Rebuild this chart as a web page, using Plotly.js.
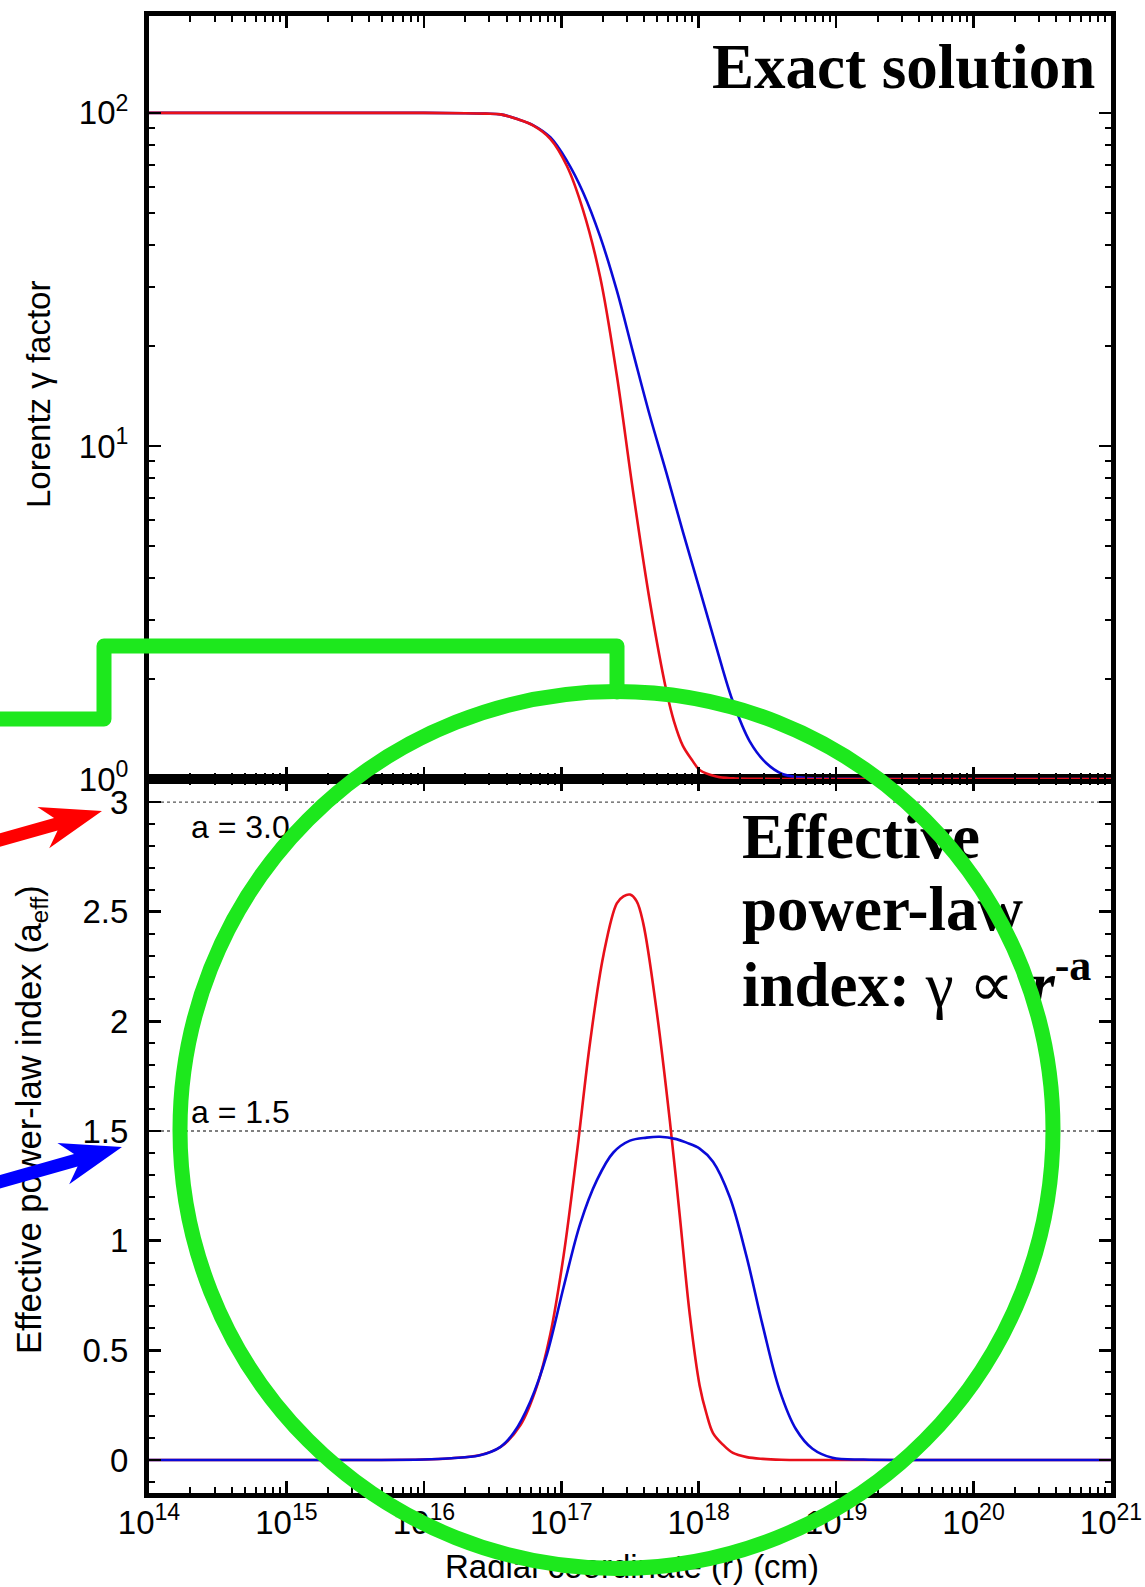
<!DOCTYPE html>
<html>
<head>
<meta charset="utf-8">
<script src="https://cdn.plot.ly/plotly-3.0.1.min.js"></script>
<style>
  html, body { margin: 0; padding: 0; background: #fff; }
  #chart { width: 1145px; height: 1587px; }
</style>
</head>
<body>
<div id="chart"></div>
<script>
// ---------------- data ----------------
// Upper panel: Lorentz gamma factor vs radial coordinate r (cm)
const rGammaRed = [1e14, 3.162e14, 1e15, 3.162e15, 1e16, 1.995e16, 2.818e16, 3.614e16, 4.746e16, 6.266e16, 8.318e16, 1.099e17, 1.442e17, 1.919e17, 2.535e17, 3.327e17, 4.416e17, 5.834e17, 6.607e17, 7.656e17, 8.913e17, 1.016e18, 1.343e18, 1.778e18, 2.512e18, 3.981e18, 1e19, 3.162e19, 1e20, 3.162e20, 1e21];
const gammaRed  = [100, 100, 100, 100, 100, 99.8, 99.5, 99.0, 95.9, 91.6, 83.6, 69.3, 51.0, 32.1, 16.3, 7.31, 3.40, 1.83, 1.49, 1.26, 1.143, 1.064, 1.017, 1.004, 1.001, 1, 1, 1, 1, 1, 1];

const rGammaBlue = [1e14, 3.162e14, 1e15, 3.162e15, 1e16, 1.995e16, 2.818e16, 3.614e16, 4.746e16, 6.266e16, 8.318e16, 1.099e17, 1.442e17, 1.919e17, 2.535e17, 3.327e17, 4.416e17, 5.834e17, 7.656e17, 1.016e18, 1.343e18, 1.762e18, 2.344e18, 3.097e18, 4.064e18, 5.395e18, 7.943e18, 1.259e19, 3.162e19, 1e20, 3.162e20, 1e21];
const gammaBlue  = [100, 100, 100, 100, 100, 99.8, 99.5, 99.0, 96.0, 91.8, 84.5, 71.8, 57.7, 42.5, 29.3, 19.1, 12.3, 8.27, 5.54, 3.71, 2.49, 1.72, 1.30, 1.117, 1.035, 1.012, 1.003, 1.001, 1, 1, 1, 1];

// Lower panel: effective power-law index a_eff vs r
const rIndexRed = [1e14, 3.162e14, 1e15, 3.162e15, 1e16, 1.585e16, 2.588e16, 3.614e16, 5.047e16, 6.668e16, 8.318e16, 1.040e17, 1.300e17, 1.622e17, 2.028e17, 2.535e17, 2.833e17, 3.162e17, 3.532e17, 3.945e17, 4.932e17, 6.166e17, 7.278e17, 8.610e17, 1.016e18, 1.138e18, 1.271e18, 1.500e18, 1.774e18, 2.239e18, 2.924e18, 3.981e18, 6.310e18, 1e19, 3.162e19, 1e20, 3.162e20, 1e21];
const indexRed  = [0, 0, 0, 0, 0.002, 0.008, 0.023, 0.059, 0.159, 0.339, 0.573, 0.933, 1.402, 1.907, 2.303, 2.538, 2.57, 2.578, 2.548, 2.448, 2.051, 1.546, 1.114, 0.663, 0.339, 0.212, 0.123, 0.07, 0.032, 0.013, 0.005, 0.001, 0, 0, 0, 0, 0, 0];

const rIndexBlue = [1e14, 3.162e14, 1e15, 3.162e15, 1e16, 1.585e16, 2.512e16, 3.614e16, 4.519e16, 5.957e16, 7.870e16, 1.040e17, 1.374e17, 1.816e17, 2.393e17, 3.162e17, 4.178e17, 5.212e17, 6.887e17, 8.147e17, 1.016e18, 1.271e18, 1.679e18, 2.218e18, 2.931e18, 3.864e18, 5.105e18, 6.730e18, 9.397e18, 1.585e19, 3.162e19, 1e20, 3.162e20, 1e21];
const indexBlue  = [0, 0, 0, 0, 0.002, 0.008, 0.02, 0.06, 0.125, 0.267, 0.483, 0.789, 1.078, 1.276, 1.402, 1.456, 1.470, 1.474, 1.463, 1.447, 1.42, 1.36, 1.20, 0.933, 0.609, 0.321, 0.14, 0.051, 0.01, 0.002, 0, 0, 0, 0];

// Reference levels in the lower panel
const refLevels = [3.0, 1.5];
const refLabels = ['a = 3.0', 'a = 1.5'];
const refLabelShift = [-25, 19];

// Tick labels
const xTickExponents = [14, 15, 16, 17, 18, 19, 20, 21];
const gammaTickExponents = [0, 1, 2];
const indexTickValues = [0, 0.5, 1, 1.5, 2, 2.5, 3];
const indexTickLabels = ['0', '0.5', '1', '1.5', '2', '2.5', '3'];

// ---------------- layout helpers ----------------
const PL = 149, PR = 1111, PT = 16, PB = 1493;     // plot area in pixels
const FIG_W = 1145, FIG_H = 1587;
function px(X) { return (X - PL) / (PR - PL); }
function py(Y) { return (PB - Y) / (PB - PT); }
function path(points, close) {
  let s = points.map((p, i) => (i ? 'L' : 'M') + px(p[0]).toFixed(5) + ',' + py(p[1]).toFixed(5)).join(' ');
  return close ? s + ' Z' : s;
}
const splitFrac = (PB - 779) / (PB - PT);

const sansFont = 'Liberation Sans, Arial, Helvetica, sans-serif';
const serifFont = 'Liberation Serif, Times New Roman, serif';

const xTickVals = xTickExponents.map(e => Math.pow(10, e));
const xTickText = xTickExponents.map(e => '10<sup>' + e + '</sup>');
const xMinor = [];
for (let e = 14; e < 21; e++) for (let k = 2; k <= 9; k++) xMinor.push(k * Math.pow(10, e));
const gTickVals = gammaTickExponents.map(e => Math.pow(10, e));
const gTickText = gammaTickExponents.map(e => '10<sup>' + e + '</sup>');
const gMinor = [];
for (let e = 0; e < 3; e++) for (let k = 2; k <= 9; k++) gMinor.push(k * Math.pow(10, e));

const axisCommon = {
  showline: true, linewidth: 5, linecolor: '#000', mirror: 'ticks',
  ticks: 'inside', ticklen: 12, tickwidth: 2.5, tickcolor: '#000',
  showgrid: false, zeroline: false,
  tickfont: { family: sansFont, size: 33, color: '#000' }
};

const RED = '#e8101a', BLUE = '#0a0ad8', GREEN = '#1de81d';
const SM = 1.0;

// ---------------- traces ----------------
const traces = [];
refLevels.forEach(lv => {
  traces.push({
    x: [xTickVals[0], xTickVals[xTickVals.length - 1]], y: [lv, lv],
    xaxis: 'x', yaxis: 'y', mode: 'lines',
    line: { color: '#555', width: 1.3, dash: 'dot' }, hoverinfo: 'skip'
  });
});
traces.push({ x: rGammaBlue, y: gammaBlue, xaxis: 'x2', yaxis: 'y2', mode: 'lines',
  line: { color: BLUE, width: 2.6, shape: 'spline', smoothing: SM } });
traces.push({ x: rGammaRed, y: gammaRed, xaxis: 'x2', yaxis: 'y2', mode: 'lines',
  line: { color: RED, width: 2.6, shape: 'spline', smoothing: SM } });
traces.push({ x: rIndexRed, y: indexRed, xaxis: 'x', yaxis: 'y', mode: 'lines',
  line: { color: RED, width: 2.6, shape: 'spline', smoothing: SM } });
traces.push({ x: rIndexBlue, y: indexBlue, xaxis: 'x', yaxis: 'y', mode: 'lines',
  line: { color: BLUE, width: 2.6, shape: 'spline', smoothing: SM } });

// ---------------- annotations ----------------
const annotations = [
  { text: 'Lorentz γ factor', xref: 'paper', yref: 'paper', x: px(38), y: py(395), textangle: -90,
    showarrow: false, xanchor: 'center', yanchor: 'middle', font: { family: sansFont, size: 33, color: '#000' } },
  { text: 'Effective power-law index (a<sub>eff</sub>)', xref: 'paper', yref: 'paper', x: px(31), y: py(1120), textangle: -90,
    showarrow: false, xanchor: 'center', yanchor: 'middle', font: { family: sansFont, size: 34.5, color: '#000' } },
  { text: 'Radial coordinate (r) (cm)', xref: 'paper', yref: 'paper', x: px(632), y: py(1567),
    showarrow: false, xanchor: 'center', yanchor: 'middle', font: { family: sansFont, size: 33, color: '#000' } },
  { text: '<b>Exact solution</b>', xref: 'paper', yref: 'paper', x: px(710), y: py(67),
    showarrow: false, xanchor: 'left', yanchor: 'middle', font: { family: serifFont, size: 63, color: '#000' } },
  { text: '<b>Effective</b>', xref: 'paper', yref: 'paper', x: px(740), y: py(837),
    showarrow: false, xanchor: 'left', yanchor: 'middle', font: { family: serifFont, size: 63, color: '#000' } },
  { text: '<b>power-law</b>', xref: 'paper', yref: 'paper', x: px(740), y: py(909),
    showarrow: false, xanchor: 'left', yanchor: 'middle', font: { family: serifFont, size: 63, color: '#000' } },
  { text: '<b>index:</b> γ ∝ <b><i>r</i><sup>-a</sup></b>', xref: 'paper', yref: 'paper', x: px(740), y: py(980),
    showarrow: false, xanchor: 'left', yanchor: 'middle', font: { family: serifFont, size: 63, color: '#000' } }
];
refLevels.forEach((lv, i) => {
  annotations.push({ text: refLabels[i], xref: 'paper', yref: 'y', x: px(189), y: lv, yshift: refLabelShift[i],
    showarrow: false, xanchor: 'left', yanchor: 'middle', font: { family: sansFont, size: 32, color: '#000' } });
});

// ---------------- overlay shapes (green markup + arrows) ----------------
function arrowPoints(tip, startX) {
  const d = [0.962, -0.2735], n = [0.2735, 0.962];
  const L = (tip[0] - startX) / d[0];
  const st = [tip[0] - L * d[0], tip[1] - L * d[1]];
  const P = (a, b) => [tip[0] - a * d[0] + b * n[0], tip[1] - a * d[1] + b * n[1]];
  return [tip, P(61, -21.5), P(48, -6.5), [st[0] - 6.5 * n[0], st[1] - 6.5 * n[1]],
          [st[0] + 6.5 * n[0], st[1] + 6.5 * n[1]], P(48, 6.5), P(61, 21.5)];
}
const shapes = [
  { type: 'circle', xref: 'paper', yref: 'paper', x0: px(180), x1: px(1053), y0: py(1568.5), y1: py(691.5),
    line: { color: GREEN, width: 15 }, layer: 'above' },
  { type: 'path', xref: 'paper', yref: 'paper', layer: 'above',
    path: path([[-10, 719], [104, 719], [104, 646], [617, 646], [617, 692]], false),
    line: { color: GREEN, width: 15 } },
  { type: 'path', xref: 'paper', yref: 'paper', layer: 'above', path: path(arrowPoints([102, 811], -15), true),
    fillcolor: '#ff0000', line: { width: 0 } },
  { type: 'path', xref: 'paper', yref: 'paper', layer: 'above', path: path(arrowPoints([122, 1147], -15), true),
    fillcolor: '#0000ff', line: { width: 0 } }
];

// ---------------- layout ----------------
const layout = {
  width: FIG_W, height: FIG_H,
  margin: { l: PL, r: FIG_W - PR, t: PT, b: FIG_H - PB, pad: 0 },
  paper_bgcolor: '#fff', plot_bgcolor: '#fff',
  showlegend: false,
  font: { family: sansFont, color: '#000' },
  xaxis: Object.assign({}, axisCommon, {
    type: 'log', range: [14, 21], anchor: 'y', domain: [0, 1],
    tickmode: 'array', tickvals: xTickVals, ticktext: xTickText, ticklabelstandoff: -4,
    minor: { ticks: 'inside', ticklen: 6, tickwidth: 2, tickcolor: '#000', tickmode: 'array', tickvals: xMinor }
  }),
  xaxis2: Object.assign({}, axisCommon, {
    type: 'log', range: [14, 21], anchor: 'y2', domain: [0, 1], showticklabels: false,
    tickmode: 'array', tickvals: xTickVals,
    minor: { ticks: 'inside', ticklen: 6, tickwidth: 2, tickcolor: '#000', tickmode: 'array', tickvals: xMinor }
  }),
  yaxis: Object.assign({}, axisCommon, {
    range: [-0.1505, 3.105], domain: [0, splitFrac], anchor: 'x',
    tickmode: 'array', tickvals: indexTickValues, ticktext: indexTickLabels, ticklabelstandoff: 9,
    minor: { ticks: 'inside', ticklen: 6, tickwidth: 2, tickcolor: '#000', tickmode: 'linear', tick0: 0, dtick: 0.1 }
  }),
  yaxis2: Object.assign({}, axisCommon, {
    type: 'log', range: [0, 2.291], domain: [splitFrac, 1], anchor: 'x2',
    tickmode: 'array', tickvals: gTickVals, ticktext: gTickText, ticklabelstandoff: 9,
    minor: { ticks: 'inside', ticklen: 6, tickwidth: 2, tickcolor: '#000', tickmode: 'array', tickvals: gMinor }
  }),
  annotations: annotations,
  shapes: shapes
};

Plotly.newPlot('chart', traces, layout, { staticPlot: true, displayModeBar: false }).then(gd => {
  // put the hand-drawn markup above all text, as in the reference
  const above = gd.querySelector('.main-svg .layer-above');
  const svgs = gd.querySelectorAll('.main-svg');
  if (above && svgs.length > 1) svgs[svgs.length - 1].appendChild(above);
  if (above) above.querySelectorAll('path').forEach(p => { p.style.strokeLinejoin = 'round'; p.style.strokeLinecap = 'round'; });
});
</script>
</body>
</html>
